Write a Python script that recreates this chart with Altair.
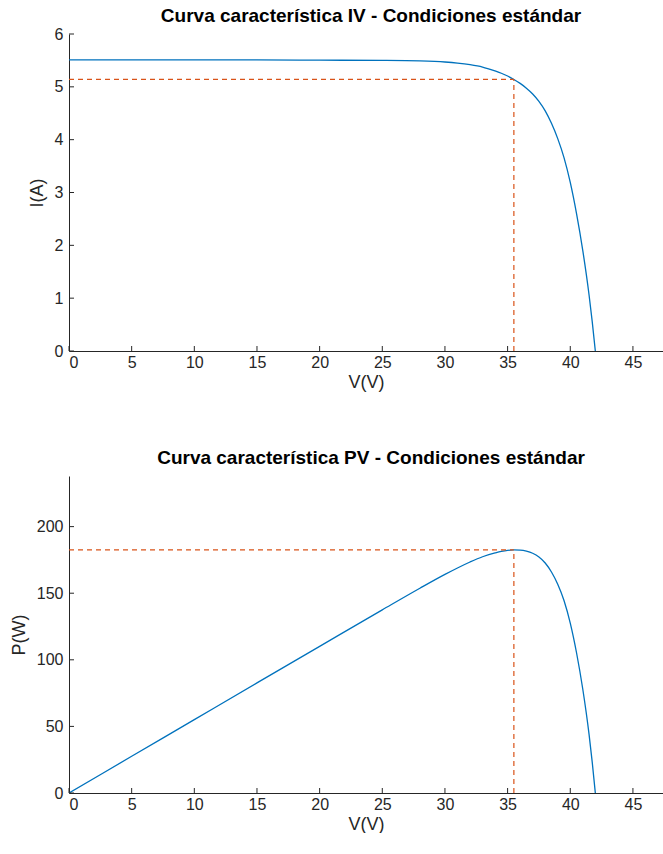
import altair as alt
import pandas as pd

# ---- data ----
V = [0, 5, 10, 15, 20, 25, 28, 30, 31, 32, 33, 34, 34.5, 35, 35.5, 36, 36.5,
     37, 37.5, 38, 38.5, 39, 39.5, 40, 40.5, 41, 41.5, 41.75, 42]
I = [5.51, 5.51, 5.51, 5.51, 5.505, 5.50, 5.49, 5.47, 5.45, 5.42, 5.375, 5.30,
     5.257, 5.205, 5.14, 5.065, 4.975, 4.865, 4.725, 4.545, 4.31, 4.02, 3.66,
     3.19, 2.60, 1.90, 1.06, 0.56, 0.0]
P = [0, 27.55, 55.1, 82.65, 110.1, 137.5, 153.72, 164.1, 168.95, 173.44, 177.38,
     180.2, 181.37, 182.18, 182.47, 182.34, 181.59, 180.0, 177.19, 172.71, 165.94,
     156.78, 144.57, 127.6, 105.3, 77.9, 43.99, 23.38, 0]

V_MP = 35.5
I_MP = 5.14
P_MP = 182.5

X_TICKS = [0, 5, 10, 15, 20, 25, 30, 35, 40, 45]
I_TICKS = [0, 1, 2, 3, 4, 5, 6]
P_TICKS = [0, 50, 100, 150, 200]
X_MAX = 47.4
I_MAX = 6
P_MAX = 238

TITLE_IV = "Curva característica IV - Condiciones estándar"
TITLE_PV = "Curva característica PV - Condiciones estándar"

# ---- styling ----
FONT = "Liberation Sans"
AX = "#262626"
BLUE = "#0072BD"
ORANGE = "#D95319"
W, H = 594, 317
TICK = 5

df = pd.DataFrame({"V": V, "I": I, "P": P})
xticks_df = pd.DataFrame({"t": X_TICKS})


def panel(ycol, ytitle, yticks, ymax, ymp, title, title_offset):
    xs = alt.Scale(domain=[0, X_MAX], nice=False, zero=True)
    ys = alt.Scale(domain=[0, ymax], nice=False, zero=True)
    xaxis = alt.Axis(values=X_TICKS, title="V(V)", ticks=False, grid=False,
                     domainColor=AX, domainWidth=1, labelColor=AX,
                     labelFont=FONT, labelFontSize=16, labelPadding=3,
                     titleFont=FONT, titleFontSize=18, titleFontWeight="normal",
                     titleColor=AX, titlePadding=3)
    yaxis = alt.Axis(values=yticks, title=ytitle, ticks=False, grid=False,
                     domainColor=AX, domainWidth=1, labelColor=AX,
                     labelFont=FONT, labelFontSize=16, labelPadding=6,
                     titleFont=FONT, titleFontSize=18, titleFontWeight="normal",
                     titleColor=AX, titlePadding=8)

    line = alt.Chart(df).mark_line(color=BLUE, strokeWidth=1.3,
                                   interpolate="monotone", clip=True).encode(
        x=alt.X("V:Q", scale=xs, axis=xaxis),
        y=alt.Y(f"{ycol}:Q", scale=ys, axis=yaxis),
    )

    mp = pd.DataFrame({"x0": [0], "vmp": [V_MP], "y0": [0], "ymp": [ymp]})
    hdash = alt.Chart(mp).mark_rule(color=ORANGE, strokeWidth=1.2,
                                    strokeDash=[5, 4]).encode(
        x=alt.X("x0:Q", scale=xs, axis=xaxis), x2="vmp:Q",
        y=alt.Y("ymp:Q", scale=ys, axis=yaxis))
    vdash = alt.Chart(mp).mark_rule(color=ORANGE, strokeWidth=1.2,
                                    strokeDash=[5, 4]).encode(
        x=alt.X("vmp:Q", scale=xs, axis=xaxis),
        y=alt.Y("y0:Q", scale=ys, axis=yaxis), y2="ymp:Q")

    xt = alt.Chart(xticks_df).mark_rule(color=AX, strokeWidth=1).encode(
        x=alt.X("t:Q", scale=xs, axis=xaxis),
        y=alt.value(H), y2=alt.value(H - TICK))
    yt = alt.Chart(pd.DataFrame({"t": yticks})).mark_rule(color=AX, strokeWidth=1).encode(
        y=alt.Y("t:Q", scale=ys, axis=yaxis),
        x=alt.value(0), x2=alt.value(TICK))

    return alt.layer(line, hdash, vdash, xt, yt).properties(
        width=W, height=H,
        title=alt.TitleParams(title, font=FONT, fontSize=19, fontWeight="bold",
                              color="#000000", anchor="middle", frame="group",
                              offset=title_offset, dx=5),
    )


top = panel("I", "I(A)", I_TICKS, I_MAX, I_MP, TITLE_IV, 0)
bottom = panel("P", "P(W)", P_TICKS, P_MAX, P_MP, TITLE_PV, 8)

chart = alt.vconcat(top, bottom, spacing=58).properties(
    padding={"left": 10, "top": 7, "right": 0, "bottom": 0},
    background="white",
).configure_view(stroke=None)

chart.save("out.html", embed_options={"renderer": "svg", "actions": False})
